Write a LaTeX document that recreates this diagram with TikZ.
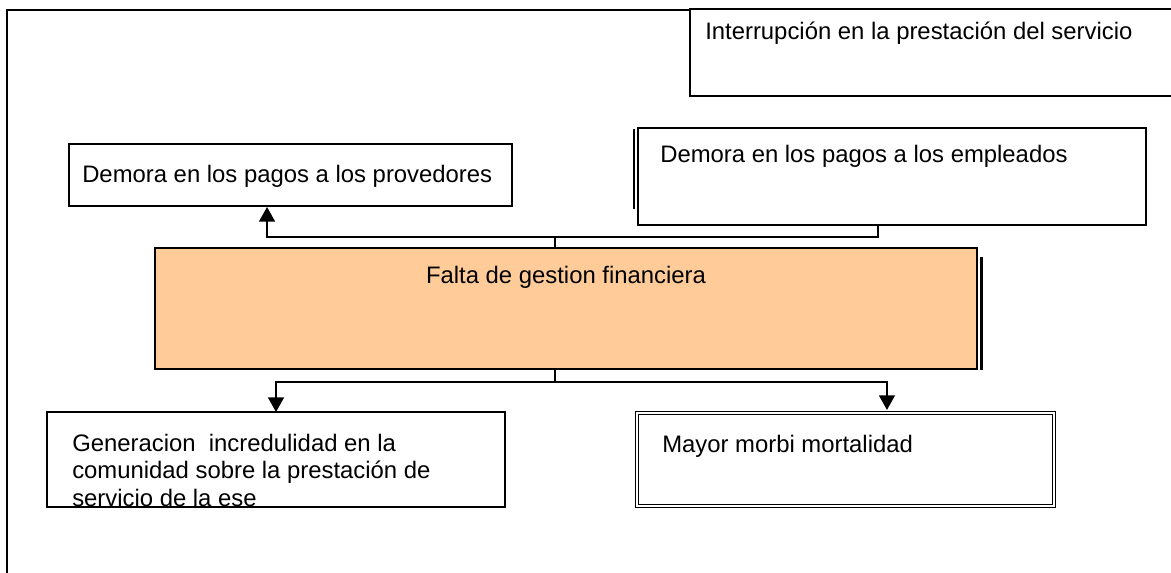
\documentclass[tikz,border=0pt]{standalone}
\usepackage{fontspec}
\setmainfont{Liberation Sans}
\usetikzlibrary{arrows.meta, positioning, calc}
\definecolor{faltaorange}{RGB}{255, 204, 153}

\begin{document}
\begin{tikzpicture}[x=0.75pt, y=-0.75pt,
  box/.style={draw, line width=1.5pt, inner sep=0pt},
  lbl/.style={font=\fontsize{17.9}{20.6}\selectfont, inner sep=0pt, anchor=base west},
  link/.style={line width=1.2pt},
  tip/.style={link, -{Triangle[width=12pt, length=11pt]}}]
  \clip (0,0) rectangle (1171,573);

  % outer frame
  \draw[line width=2pt] (7,590) -- (7,10) -- (690,10);

  % top box
  \node[box, fill=white, minimum width=367.5pt, minimum height=65.25pt] (interr) at (935,52.5) {};
  \node[lbl] (interrtxt) at (705,40) {Interrupción en la prestación del servicio};

  % effects above
  \node[box, minimum width=332.25pt, minimum height=46.5pt] (prov) at (290.5,175) {};
  \node[lbl] (provtxt) at (82,183) {Demora en los pagos a los provedores};

  \node[box, minimum width=381pt, minimum height=72.75pt] (empl) at (892,176.5) {};
  \draw[line width=1.5pt] ([xshift=-2pt, yshift=-1.5pt]empl.north west) -- ([xshift=-2pt, yshift=12.75pt]empl.south west);
  \node[lbl] (empltxt) at (660,163) {Demora en los pagos a los empleados};

  % central problem
  \node[box, fill=faltaorange, minimum width=616.5pt, minimum height=90.75pt] (falta) at (566,308.5) {};
  \draw[line width=2pt] ([xshift=2.5pt, yshift=-7.5pt]falta.north east) -- ([xshift=2.5pt]falta.south east);
  \node[lbl, anchor=base] (faltatxt) at (566,284) {Falta de gestion financiera};

  % effects below
  \node[box, draw=none, minimum width=342pt, minimum height=69.75pt] (gener) at (276,459.5) {};
  \begin{scope}
    \clip (gener.north west) rectangle (gener.south east);
    \node[lbl, align=left] (genertxt) at (72,506) {Generacion\ \ incredulidad en la\\comunidad sobre la prestación de\\servicio de la ese};
  \end{scope}
  \draw[line width=1.5pt] (gener.north west) rectangle (gener.south east);

  \node[box, line width=1pt, double, double distance=1.6pt, minimum width=312.75pt, minimum height=69.75pt] (mayor) at (845.5,459.5) {};
  \node[lbl] (mayortxt) at (662,452) {Mayor morbi mortalidad};

  % connectors
  \coordinate (jt) at (555,237);
  \coordinate (jb) at (555,382);
  \draw[link] (falta.north -| jt) -- (jt);
  \draw[tip] (jt) -| ([xshift=-17.6pt]prov.south);
  \draw[link] (jt) -| ([xshift=-10.5pt]empl.south);
  \draw[link] (falta.south -| jb) -- (jb);
  \draw[tip] (jb) -| (gener.north);
  \draw[tip] (jb) -| ([xshift=31.1pt, yshift=1.8pt]mayor.north);
\end{tikzpicture}
\end{document}
